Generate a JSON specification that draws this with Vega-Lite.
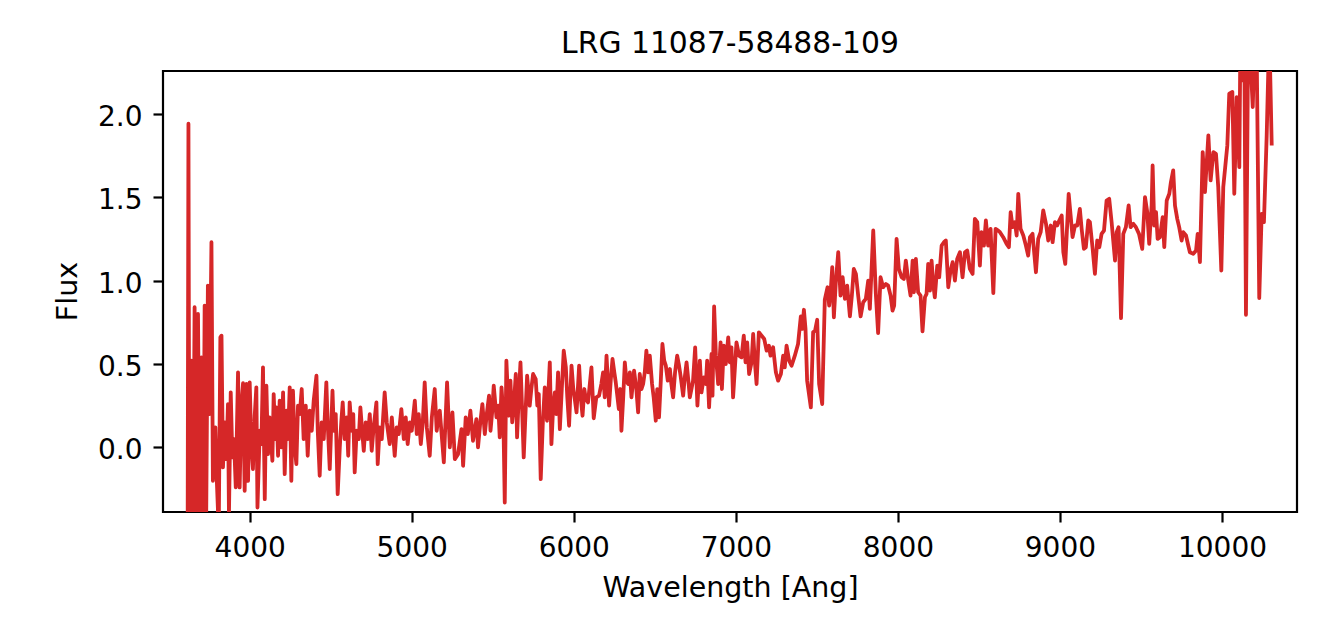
{
"$schema": "https://vega.github.io/schema/vega-lite/v6.json",
"width": 1134, "height": 441,
"autosize": {"type": "none"},
"padding": {"left": 163, "top": 71, "right": 29, "bottom": 106},
"background": "white",
"title": {"text": "LRG 11087-58488-109", "font": "DejaVu Sans", "fontSize": 29.8, "fontWeight": "normal", "color": "#000", "frame": "group", "anchor": "middle", "baseline": "alphabetic", "offset": 18, "dy": 29.5},
"data": {"values": [
{"wavelength":3617,"flux":-0.6},{"wavelength":3622,"flux":1.94},{"wavelength":3628,"flux":-0.8},{"wavelength":3640,"flux":0.52},{"wavelength":3650,"flux":-0.7},{"wavelength":3660,"flux":0.84},{"wavelength":3670,"flux":-0.8},{"wavelength":3681,"flux":0.80},{"wavelength":3692,"flux":-0.6},{"wavelength":3702,"flux":0.54},{"wavelength":3712,"flux":-0.8},{"wavelength":3722,"flux":0.85},{"wavelength":3731,"flux":-0.5},{"wavelength":3742,"flux":0.97},{"wavelength":3752,"flux":0.2},{"wavelength":3764,"flux":1.23},{"wavelength":3773,"flux":-0.20},{"wavelength":3788,"flux":0.12},{"wavelength":3798,"flux":-0.22},{"wavelength":3809,"flux":-0.5},{"wavelength":3819,"flux":0.66},{"wavelength":3826,"flux":0.67},{"wavelength":3835,"flux":-0.12},{"wavelength":3846,"flux":0.15},{"wavelength":3856,"flux":-0.07},{"wavelength":3866,"flux":0.26},{"wavelength":3872,"flux":-0.40},{"wavelength":3883,"flux":0.33},{"wavelength":3893,"flux":-0.06},{"wavelength":3903,"flux":0.05},{"wavelength":3914,"flux":-0.24},{"wavelength":3928,"flux":0.45},{"wavelength":3938,"flux":-0.24},{"wavelength":3949,"flux":0.26},{"wavelength":3959,"flux":0.385},{"wavelength":3969,"flux":-0.26},{"wavelength":3980,"flux":0.38},{"wavelength":3990,"flux":-0.20},{"wavelength":4000,"flux":0.39},{"wavelength":4010,"flux":0.02},{"wavelength":4020,"flux":-0.13},{"wavelength":4031,"flux":0.19},{"wavelength":4041,"flux":0.36},{"wavelength":4048,"flux":-0.36},{"wavelength":4062,"flux":0.10},{"wavelength":4072,"flux":0.02},{"wavelength":4082,"flux":0.48},{"wavelength":4093,"flux":-0.31},{"wavelength":4103,"flux":0.37},{"wavelength":4113,"flux":-0.04},{"wavelength":4123,"flux":0.18},{"wavelength":4140,"flux":-0.08},{"wavelength":4148,"flux":0.32},{"wavelength":4158,"flux":0.05},{"wavelength":4165,"flux":0.24},{"wavelength":4175,"flux":-0.05},{"wavelength":4185,"flux":0.28},{"wavelength":4196,"flux":0.0},{"wavelength":4206,"flux":0.33},{"wavelength":4216,"flux":-0.16},{"wavelength":4227,"flux":0.22},{"wavelength":4236,"flux":0.05},{"wavelength":4247,"flux":0.36},{"wavelength":4257,"flux":-0.20},{"wavelength":4267,"flux":0.34},{"wavelength":4278,"flux":0.0},{"wavelength":4288,"flux":-0.1},{"wavelength":4298,"flux":0.25},
{"wavelength":4309,"flux":0.20},{"wavelength":4321,"flux":0.35},{"wavelength":4333,"flux":0.05},{"wavelength":4346,"flux":0.25},{"wavelength":4358,"flux":-0.05},{"wavelength":4370,"flux":0.22},{"wavelength":4383,"flux":0.10},{"wavelength":4395,"flux":0.28},{"wavelength":4412,"flux":0.43},{"wavelength":4420,"flux":0.10},{"wavelength":4432,"flux":-0.17},{"wavelength":4444,"flux":0.15},{"wavelength":4457,"flux":0.05},{"wavelength":4473,"flux":0.39},{"wavelength":4481,"flux":0.15},{"wavelength":4494,"flux":-0.13},{"wavelength":4511,"flux":0.34},{"wavelength":4519,"flux":0.10},{"wavelength":4531,"flux":0.20},{"wavelength":4543,"flux":-0.28},{"wavelength":4556,"flux":0.0},{"wavelength":4565,"flux":0.15},{"wavelength":4574,"flux":0.27},{"wavelength":4586,"flux":0.05},{"wavelength":4599,"flux":0.18},{"wavelength":4608,"flux":-0.05},{"wavelength":4617,"flux":0.27},{"wavelength":4630,"flux":0.10},{"wavelength":4639,"flux":0.20},{"wavelength":4648,"flux":-0.15},{"wavelength":4660,"flux":0.10},{"wavelength":4673,"flux":0.05},{"wavelength":4683,"flux":0.24},{"wavelength":4694,"flux":0.10},{"wavelength":4704,"flux":-0.02},{"wavelength":4716,"flux":0.15},{"wavelength":4728,"flux":0.05},{"wavelength":4741,"flux":0.20},{"wavelength":4753,"flux":-0.02},{"wavelength":4765,"flux":0.12},{"wavelength":4782,"flux":0.27},{"wavelength":4790,"flux":-0.10},{"wavelength":4802,"flux":0.12},{"wavelength":4815,"flux":0.05},{"wavelength":4833,"flux":0.33},{"wavelength":4846,"flux":0.15},{"wavelength":4864,"flux":0.02},{"wavelength":4877,"flux":0.18},{"wavelength":4895,"flux":-0.05},{"wavelength":4907,"flux":0.12},{"wavelength":4920,"flux":0.08},{"wavelength":4936,"flux":0.23},{"wavelength":4951,"flux":0.05},{"wavelength":4963,"flux":0.18},{"wavelength":4975,"flux":0.02},{"wavelength":4988,"flux":0.15},{"wavelength":5000,"flux":0.10},{"wavelength":5019,"flux":0.28},{"wavelength":5031,"flux":0.08},{"wavelength":5043,"flux":0.20},{"wavelength":5056,"flux":0.02},{"wavelength":5068,"flux":0.15},{"wavelength":5080,"flux":0.39},{"wavelength":5093,"flux":0.12},{"wavelength":5111,"flux":-0.05},{"wavelength":5124,"flux":0.18},{"wavelength":5142,"flux":0.35},{"wavelength":5154,"flux":0.10},{"wavelength":5167,"flux":0.20},{"wavelength":5173,"flux":0.22},
{"wavelength":5198,"flux":-0.09},{"wavelength":5218,"flux":0.39},{"wavelength":5235,"flux":0.0},{"wavelength":5251,"flux":0.21},{"wavelength":5266,"flux":-0.07},{"wavelength":5286,"flux":-0.04},{"wavelength":5307,"flux":0.11},{"wavelength":5317,"flux":-0.11},{"wavelength":5333,"flux":0.18},{"wavelength":5346,"flux":0.08},{"wavelength":5362,"flux":0.22},{"wavelength":5378,"flux":0.04},{"wavelength":5399,"flux":0.17},{"wavelength":5409,"flux":0.0},{"wavelength":5423,"flux":0.15},{"wavelength":5436,"flux":0.26},{"wavelength":5451,"flux":0.08},{"wavelength":5463,"flux":0.20},{"wavelength":5477,"flux":0.31},{"wavelength":5486,"flux":0.10},{"wavelength":5497,"flux":0.22},{"wavelength":5506,"flux":0.37},{"wavelength":5523,"flux":0.18},{"wavelength":5534,"flux":0.25},{"wavelength":5543,"flux":0.06},{"wavelength":5554,"flux":0.36},{"wavelength":5565,"flux":0.20},{"wavelength":5574,"flux":-0.33},{"wavelength":5584,"flux":0.52},{"wavelength":5599,"flux":0.19},{"wavelength":5609,"flux":0.40},{"wavelength":5620,"flux":0.15},{"wavelength":5630,"flux":0.25},{"wavelength":5642,"flux":0.44},{"wavelength":5650,"flux":0.06},{"wavelength":5660,"flux":0.30},{"wavelength":5671,"flux":0.51},{"wavelength":5682,"flux":0.20},{"wavelength":5691,"flux":-0.06},{"wavelength":5704,"flux":0.25},{"wavelength":5712,"flux":0.43},{"wavelength":5728,"flux":0.25},{"wavelength":5738,"flux":0.35},{"wavelength":5749,"flux":0.44},{"wavelength":5765,"flux":0.41},{"wavelength":5775,"flux":0.25},{"wavelength":5784,"flux":0.32},{"wavelength":5796,"flux":-0.19},{"wavelength":5809,"flux":0.15},{"wavelength":5821,"flux":0.36},{"wavelength":5835,"flux":0.16},{"wavelength":5852,"flux":0.51},{"wavelength":5862,"flux":0.02},{"wavelength":5873,"flux":0.25},{"wavelength":5883,"flux":0.33},{"wavelength":5892,"flux":0.20},{"wavelength":5903,"flux":0.45},{"wavelength":5914,"flux":0.11},{"wavelength":5926,"flux":0.35},{"wavelength":5938,"flux":0.58},{"wavelength":5951,"flux":0.48},{"wavelength":5960,"flux":0.30},{"wavelength":5971,"flux":0.13},{"wavelength":5986,"flux":0.49},{"wavelength":5997,"flux":0.35},{"wavelength":6006,"flux":0.29},{"wavelength":6017,"flux":0.21},{"wavelength":6033,"flux":0.49},{"wavelength":6043,"flux":0.30},{"wavelength":6054,"flux":0.19},{"wavelength":6065,"flux":0.35},{"wavelength":6074,"flux":0.29},{"wavelength":6088,"flux":0.27},{"wavelength":6099,"flux":0.38},{"wavelength":6109,"flux":0.48},{"wavelength":6123,"flux":0.175},{"wavelength":6139,"flux":0.30},{"wavelength":6156,"flux":0.31},{"wavelength":6170,"flux":0.38},{"wavelength":6181,"flux":0.45},{"wavelength":6191,"flux":0.30},{"wavelength":6202,"flux":0.55},{"wavelength":6218,"flux":0.25},{"wavelength":6228,"flux":0.40},{"wavelength":6239,"flux":0.53},{"wavelength":6250,"flux":0.45},{"wavelength":6259,"flux":0.39},{"wavelength":6278,"flux":0.23},{"wavelength":6287,"flux":0.35},{"wavelength":6294,"flux":0.10},{"wavelength":6305,"flux":0.30},{"wavelength":6315,"flux":0.51},{"wavelength":6325,"flux":0.40},{"wavelength":6335,"flux":0.38},{"wavelength":6346,"flux":0.45},{"wavelength":6356,"flux":0.30},{"wavelength":6372,"flux":0.46},{"wavelength":6386,"flux":0.35},{"wavelength":6397,"flux":0.21},{"wavelength":6407,"flux":0.44},{"wavelength":6418,"flux":0.35},{"wavelength":6428,"flux":0.38},{"wavelength":6438,"flux":0.45},{"wavelength":6448,"flux":0.58},{"wavelength":6459,"flux":0.45},{"wavelength":6469,"flux":0.55},{"wavelength":6483,"flux":0.38},{"wavelength":6493,"flux":0.30},{"wavelength":6506,"flux":0.16},{"wavelength":6515,"flux":0.35},{"wavelength":6526,"flux":0.18},{"wavelength":6537,"flux":0.40},{"wavelength":6547,"flux":0.62},{"wavelength":6558,"flux":0.52},{"wavelength":6568,"flux":0.49},{"wavelength":6580,"flux":0.40},{"wavelength":6593,"flux":0.47},{"wavelength":6602,"flux":0.38},{"wavelength":6613,"flux":0.30},{"wavelength":6625,"flux":0.45},{"wavelength":6638,"flux":0.55},{"wavelength":6648,"flux":0.50},{"wavelength":6659,"flux":0.43},{"wavelength":6675,"flux":0.31},{"wavelength":6685,"flux":0.42},{"wavelength":6696,"flux":0.51},{"wavelength":6707,"flux":0.40},{"wavelength":6716,"flux":0.30},{"wavelength":6726,"flux":0.35},{"wavelength":6736,"flux":0.40},{"wavelength":6749,"flux":0.60},{"wavelength":6763,"flux":0.25},{"wavelength":6778,"flux":0.52},{"wavelength":6788,"flux":0.33},{"wavelength":6802,"flux":0.42},{"wavelength":6815,"flux":0.38},{"wavelength":6823,"flux":0.52},{"wavelength":6835,"flux":0.24},{"wavelength":6850,"flux":0.56},{"wavelength":6856,"flux":0.31},{"wavelength":6866,"flux":0.845},{"wavelength":6877,"flux":0.55},{"wavelength":6891,"flux":0.38},{"wavelength":6906,"flux":0.63},{"wavelength":6914,"flux":0.35},{"wavelength":6926,"flux":0.61},{"wavelength":6938,"flux":0.50},{"wavelength":6953,"flux":0.66},{"wavelength":6963,"flux":0.51},{"wavelength":6973,"flux":0.60},{"wavelength":6983,"flux":0.30},{"wavelength":7004,"flux":0.63},{"wavelength":7020,"flux":0.55},{"wavelength":7035,"flux":0.54},{"wavelength":7049,"flux":0.67},{"wavelength":7060,"flux":0.51},{"wavelength":7070,"flux":0.63},{"wavelength":7082,"flux":0.44},{"wavelength":7097,"flux":0.51},{"wavelength":7107,"flux":0.68},{"wavelength":7117,"flux":0.52},{"wavelength":7128,"flux":0.38},{"wavelength":7142,"flux":0.69},{"wavelength":7159,"flux":0.67},{"wavelength":7175,"flux":0.65},{"wavelength":7190,"flux":0.58},{"wavelength":7204,"flux":0.61},{"wavelength":7214,"flux":0.55},{"wavelength":7230,"flux":0.60},{"wavelength":7247,"flux":0.45},{"wavelength":7261,"flux":0.40},{"wavelength":7278,"flux":0.44},{"wavelength":7292,"flux":0.55},{"wavelength":7302,"flux":0.48},{"wavelength":7313,"flux":0.61},{"wavelength":7329,"flux":0.52},{"wavelength":7344,"flux":0.49},{"wavelength":7364,"flux":0.55},{"wavelength":7384,"flux":0.62},{"wavelength":7401,"flux":0.785},{"wavelength":7411,"flux":0.71},{"wavelength":7420,"flux":0.825},{"wavelength":7430,"flux":0.71},{"wavelength":7440,"flux":0.40},{"wavelength":7463,"flux":0.24},{"wavelength":7477,"flux":0.69},{"wavelength":7489,"flux":0.70},{"wavelength":7502,"flux":0.765},{"wavelength":7514,"flux":0.38},{"wavelength":7533,"flux":0.26},{"wavelength":7549,"flux":0.885},{"wavelength":7566,"flux":0.96},{"wavelength":7576,"flux":0.85},{"wavelength":7585,"flux":0.93},{"wavelength":7595,"flux":1.08},{"wavelength":7605,"flux":0.78},{"wavelength":7617,"flux":0.99},{"wavelength":7632,"flux":1.17},{"wavelength":7646,"flux":0.91},{"wavelength":7659,"flux":1.02},{"wavelength":7673,"flux":0.89},{"wavelength":7687,"flux":0.97},{"wavelength":7704,"flux":0.785},{"wavelength":7716,"flux":0.91},{"wavelength":7728,"flux":1.07},{"wavelength":7741,"flux":1.04},{"wavelength":7755,"flux":0.91},{"wavelength":7770,"flux":0.785},{"wavelength":7786,"flux":0.87},{"wavelength":7802,"flux":0.89},{"wavelength":7817,"flux":1.00},{"wavelength":7827,"flux":0.83},{"wavelength":7835,"flux":1.01},{"wavelength":7848,"flux":1.30},{"wavelength":7864,"flux":0.92},{"wavelength":7878,"flux":0.685},{"wavelength":7893,"flux":1.02},{"wavelength":7909,"flux":0.96},{"wavelength":7926,"flux":0.98},{"wavelength":7940,"flux":0.97},{"wavelength":7955,"flux":0.91},{"wavelength":7967,"flux":0.82},{"wavelength":7977,"flux":0.85},{"wavelength":7992,"flux":1.25},{"wavelength":8006,"flux":1.07},{"wavelength":8023,"flux":1.02},{"wavelength":8037,"flux":1.01},{"wavelength":8049,"flux":1.12},{"wavelength":8064,"flux":1.00},{"wavelength":8078,"flux":0.91},{"wavelength":8091,"flux":1.12},{"wavelength":8099,"flux":0.93},{"wavelength":8111,"flux":1.13},{"wavelength":8125,"flux":0.93},{"wavelength":8140,"flux":0.91},{"wavelength":8152,"flux":0.695},{"wavelength":8167,"flux":0.90},{"wavelength":8177,"flux":0.92},{"wavelength":8187,"flux":1.10},{"wavelength":8198,"flux":0.94},{"wavelength":8208,"flux":1.12},{"wavelength":8218,"flux":0.98},{"wavelength":8228,"flux":0.90},{"wavelength":8243,"flux":1.09},{"wavelength":8255,"flux":1.02},{"wavelength":8270,"flux":1.21},{"wavelength":8284,"flux":1.23},{"wavelength":8296,"flux":1.24},{"wavelength":8311,"flux":0.96},{"wavelength":8325,"flux":1.06},{"wavelength":8338,"flux":1.11},{"wavelength":8352,"flux":1.00},{"wavelength":8366,"flux":1.13},{"wavelength":8383,"flux":1.17},{"wavelength":8399,"flux":1.02},{"wavelength":8414,"flux":1.17},{"wavelength":8428,"flux":1.18},{"wavelength":8444,"flux":1.07},{"wavelength":8461,"flux":1.04},{"wavelength":8475,"flux":1.37},{"wavelength":8490,"flux":1.35},{"wavelength":8506,"flux":1.09},{"wavelength":8516,"flux":1.29},{"wavelength":8531,"flux":1.21},{"wavelength":8543,"flux":1.36},{"wavelength":8557,"flux":1.21},{"wavelength":8572,"flux":1.31},{"wavelength":8589,"flux":0.925},{"wavelength":8603,"flux":1.31},{"wavelength":8619,"flux":1.30},{"wavelength":8630,"flux":1.29},{"wavelength":8650,"flux":1.26},{"wavelength":8671,"flux":1.22},{"wavelength":8685,"flux":1.20},{"wavelength":8696,"flux":1.41},{"wavelength":8708,"flux":1.32},{"wavelength":8722,"flux":1.35},{"wavelength":8733,"flux":1.27},{"wavelength":8743,"flux":1.52},{"wavelength":8757,"flux":1.31},{"wavelength":8774,"flux":1.27},{"wavelength":8790,"flux":1.21},{"wavelength":8804,"flux":1.15},{"wavelength":8815,"flux":1.26},{"wavelength":8831,"flux":1.28},{"wavelength":8852,"flux":1.05},{"wavelength":8866,"flux":1.25},{"wavelength":8881,"flux":1.29},{"wavelength":8897,"flux":1.42},{"wavelength":8914,"flux":1.34},{"wavelength":8928,"flux":1.24},{"wavelength":8943,"flux":1.33},{"wavelength":8955,"flux":1.23},{"wavelength":8969,"flux":1.35},{"wavelength":8983,"flux":1.33},{"wavelength":8996,"flux":1.36},{"wavelength":9011,"flux":1.39},{"wavelength":9021,"flux":1.17},{"wavelength":9033,"flux":1.10},{"wavelength":9054,"flux":1.52},{"wavelength":9066,"flux":1.39},{"wavelength":9078,"flux":1.26},{"wavelength":9093,"flux":1.33},{"wavelength":9107,"flux":1.33},{"wavelength":9123,"flux":1.43},{"wavelength":9134,"flux":1.31},{"wavelength":9148,"flux":1.19},{"wavelength":9160,"flux":1.20},{"wavelength":9175,"flux":1.36},{"wavelength":9185,"flux":1.35},{"wavelength":9202,"flux":1.19},{"wavelength":9216,"flux":1.04},{"wavelength":9230,"flux":1.24},{"wavelength":9243,"flux":1.20},{"wavelength":9257,"flux":1.28},{"wavelength":9272,"flux":1.30},{"wavelength":9288,"flux":1.48},{"wavelength":9304,"flux":1.49},{"wavelength":9319,"flux":1.35},{"wavelength":9329,"flux":1.24},{"wavelength":9340,"flux":1.12},{"wavelength":9350,"flux":1.29},{"wavelength":9362,"flux":1.32},{"wavelength":9377,"flux":0.775},{"wavelength":9391,"flux":1.28},{"wavelength":9407,"flux":1.32},{"wavelength":9424,"flux":1.45},{"wavelength":9436,"flux":1.32},{"wavelength":9453,"flux":1.34},{"wavelength":9469,"flux":1.32},{"wavelength":9488,"flux":1.28},{"wavelength":9508,"flux":1.19},{"wavelength":9525,"flux":1.50},{"wavelength":9539,"flux":1.41},{"wavelength":9551,"flux":1.22},{"wavelength":9566,"flux":1.45},{"wavelength":9572,"flux":1.69},{"wavelength":9582,"flux":1.33},{"wavelength":9593,"flux":1.41},{"wavelength":9603,"flux":1.25},{"wavelength":9617,"flux":1.26},{"wavelength":9634,"flux":1.38},{"wavelength":9644,"flux":1.20},{"wavelength":9659,"flux":1.48},{"wavelength":9675,"flux":1.52},{"wavelength":9685,"flux":1.59},{"wavelength":9699,"flux":1.66},{"wavelength":9710,"flux":1.45},{"wavelength":9724,"flux":1.37},{"wavelength":9736,"flux":1.32},{"wavelength":9751,"flux":1.24},{"wavelength":9761,"flux":1.29},{"wavelength":9778,"flux":1.27},{"wavelength":9792,"flux":1.21},{"wavelength":9802,"flux":1.17},{"wavelength":9823,"flux":1.16},{"wavelength":9840,"flux":1.18},{"wavelength":9850,"flux":1.28},{"wavelength":9864,"flux":1.11},{"wavelength":9881,"flux":1.77},{"wavelength":9895,"flux":1.53},{"wavelength":9916,"flux":1.87},{"wavelength":9930,"flux":1.60},{"wavelength":9947,"flux":1.77},{"wavelength":9963,"flux":1.76},{"wavelength":9977,"flux":1.56},{"wavelength":9996,"flux":1.06},{"wavelength":10008,"flux":1.56},{"wavelength":10033,"flux":1.81},{"wavelength":10045,"flux":2.12},{"wavelength":10064,"flux":2.13},{"wavelength":10076,"flux":1.52},{"wavelength":10091,"flux":2.10},{"wavelength":10107,"flux":1.68},{"wavelength":10115,"flux":2.6},{"wavelength":10127,"flux":2.2},{"wavelength":10136,"flux":2.7},{"wavelength":10148,"flux":0.795},{"wavelength":10162,"flux":2.5},{"wavelength":10177,"flux":2.3},{"wavelength":10190,"flux":2.04},{"wavelength":10204,"flux":2.5},{"wavelength":10214,"flux":2.4},{"wavelength":10230,"flux":0.895},{"wavelength":10245,"flux":1.40},{"wavelength":10259,"flux":1.35},{"wavelength":10276,"flux":1.87},{"wavelength":10292,"flux":2.5},{"wavelength":10307,"flux":1.81}
]},
"mark": {"type": "line", "color": "#d62728", "strokeWidth": 3.8, "strokeJoin": "round", "clip": true},
"encoding": {
  "x": {"field": "wavelength", "type": "quantitative", "sort": null,
        "scale": {"domain": [3465, 10463], "nice": false, "zero": false},
        "axis": {"title": "Wavelength [Ang]", "values": [4000, 5000, 6000, 7000, 8000, 9000, 10000], "format": "d", "labelPadding": 12, "labelFlush": false, "labelOverlap": false, "titleX": 567, "titleY": 84.6, "titleBaseline": "alphabetic", "titleAlign": "center"}},
  "y": {"field": "flux", "type": "quantitative",
        "scale": {"domain": [-0.387, 2.256], "nice": false, "zero": false},
        "axis": {"title": "Flux", "values": [0, 0.5, 1, 1.5, 2], "format": ".1f", "labelPadding": 11, "labelBaseline": "alphabetic", "labelOffset": 11.5, "labelFlush": false, "labelOverlap": false, "titleX": -86.6, "titleY": 220, "titleAngle": -90, "titleBaseline": "alphabetic", "titleAlign": "center"}}
},
"config": {
  "view": {"stroke": "#000", "strokeWidth": 2.2},
  "axis": {"grid": false, "domain": false, "ticks": true, "tickColor": "#000", "tickWidth": 2.2, "tickSize": 10, "labelFont": "DejaVu Sans", "labelFontSize": 28, "labelColor": "#000", "titleFont": "DejaVu Sans", "titleFontSize": 28.5, "titleFontWeight": "normal", "titleColor": "#000"}
}
}
